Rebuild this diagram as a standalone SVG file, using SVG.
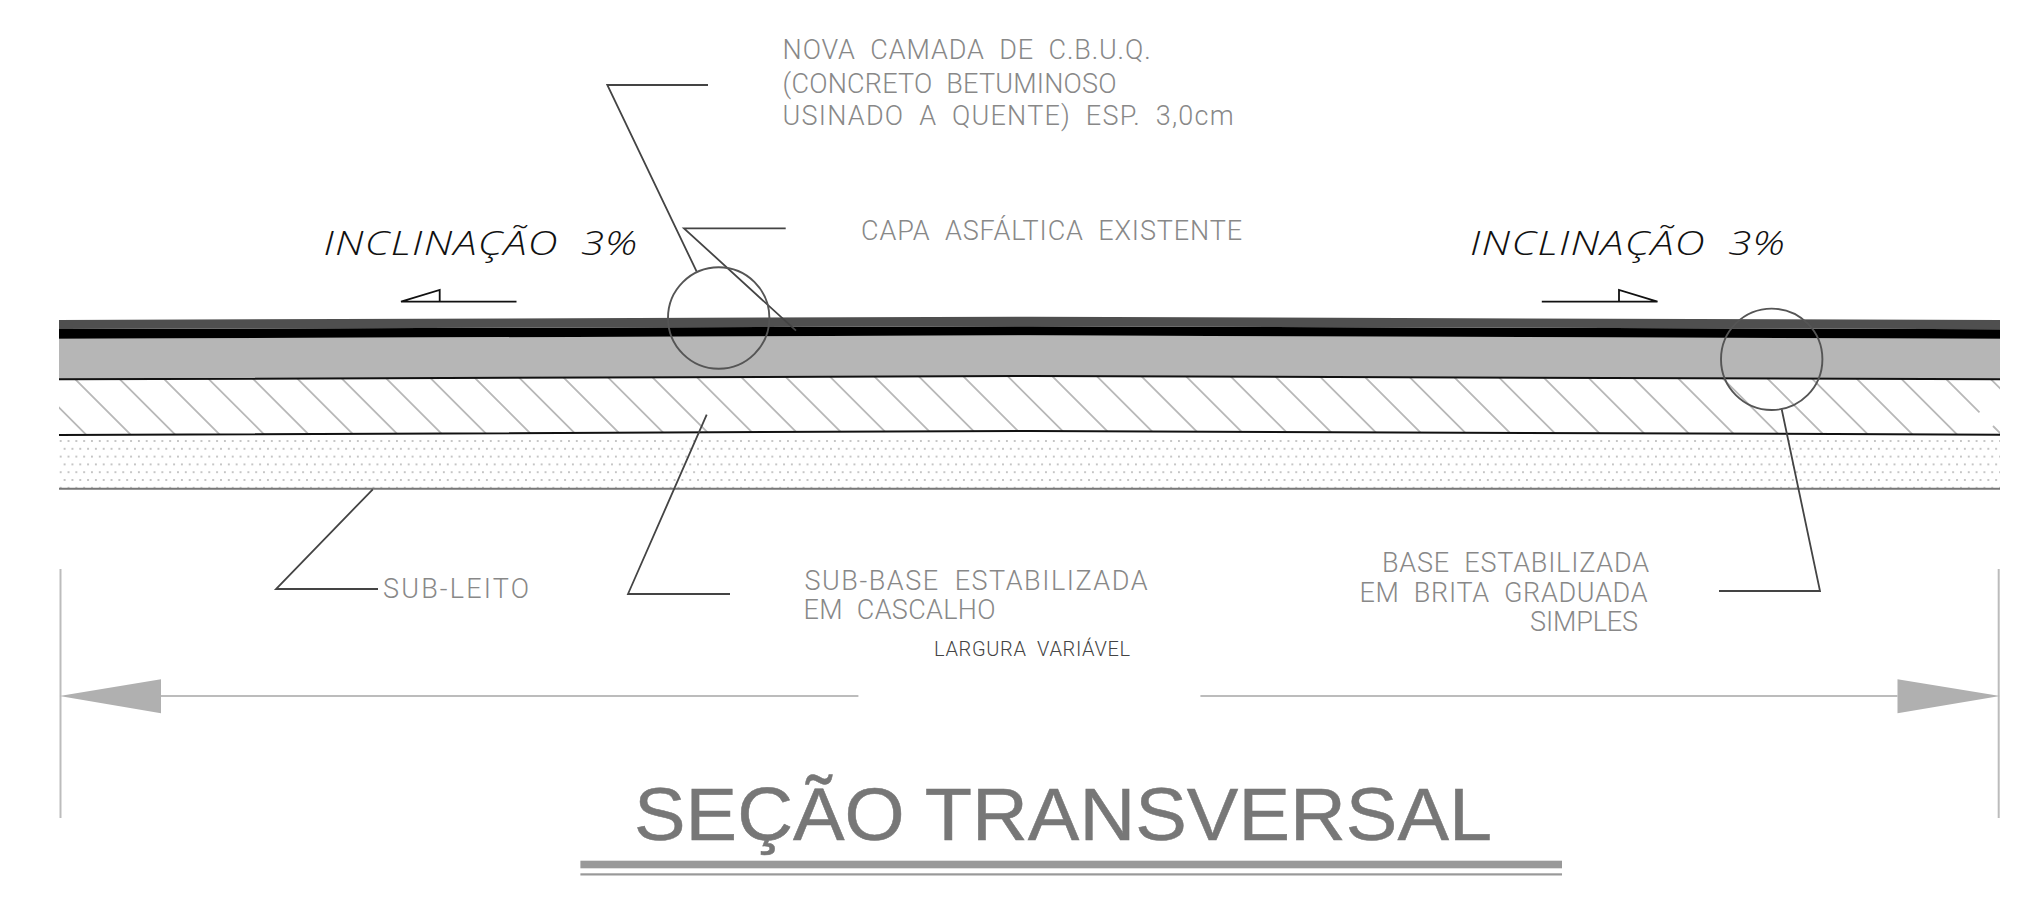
<svg xmlns="http://www.w3.org/2000/svg" width="2037" height="900" viewBox="0 0 2037 900">
<style>
.cad{font-family:Roboto,"Liberation Sans",sans-serif;font-weight:300;fill:#888;font-size:27px;word-spacing:7px}
.slope{font-family:"Open Sans","Liberation Sans",sans-serif;font-weight:300;font-style:italic;fill:#111;font-size:33px;letter-spacing:1px;word-spacing:8px}
.lead{fill:none;stroke:#444;stroke-width:1.8}
.dim{fill:none;stroke:#bcbcbc;stroke-width:2}
.arrowhead{fill:#b0b0b0}
.sl{fill:none;stroke:#111;stroke-width:1.8}
.edge{fill:none;stroke:#111;stroke-width:2}
.ring{fill:none;stroke:#555;stroke-width:1.9}
</style>
<defs>
<clipPath id="hatchClip"><polygon points="59,379 1030,376 2000,379.3 2000,434.7 1030,431 59,435"/></clipPath>
<pattern id="dots" patternUnits="userSpaceOnUse" x="56.8" y="437.1" width="7.82" height="15.6">
<circle cx="3.9" cy="3.9" r="0.95" fill="#b0b0b0"/>
<circle cx="0" cy="11.7" r="0.95" fill="#b0b0b0"/>
<circle cx="7.82" cy="11.7" r="0.95" fill="#b0b0b0"/>
</pattern>
</defs>
<rect width="2037" height="900" fill="#fff"/>
<g id="pavement">
<g id="sub-base-hatch" clip-path="url(#hatchClip)">
<path fill="none" stroke="#b8b8b8" stroke-width="1.8" d="M21.45 370l70 70M66 370l70 70M110.55 370l70 70M155.1 370l70 70M199.65 370l70 70M244.2 370l70 70M288.75 370l70 70M333.3 370l70 70M377.85 370l70 70M422.4 370l70 70M466.95 370l70 70M511.5 370l70 70M556.05 370l70 70M600.6 370l70 70M645.15 370l70 70M689.7 370l70 70M734.25 370l70 70M778.8 370l70 70M823.35 370l70 70M867.9 370l70 70M912.45 370l70 70M957 370l70 70M1001.55 370l70 70M1046.1 370l70 70M1090.65 370l70 70M1135.2 370l70 70M1179.75 370l70 70M1224.3 370l70 70M1268.85 370l70 70M1313.4 370l70 70M1357.95 370l70 70M1402.5 370l70 70M1447.05 370l70 70M1491.6 370l70 70M1536.15 370l70 70M1580.7 370l70 70M1625.25 370l70 70M1669.8 370l70 70M1714.35 370l70 70M1758.9 370l70 70M1803.45 370l70 70M1848 370l70 70M1892.55 370l70 70M1937.1 370l42.4 42.4M1993 426l10 10M1981.65 370l30 30"/>
</g>
<rect id="sub-leito-dots" x="59" y="437" width="941" height="51" fill="url(#dots)"/>
<rect x="1000" y="437" width="1000" height="51" fill="url(#dots)"/>
<polygon id="base" points="59,338.7 1030,335.3 2000,338.7 2000,379.3 1030,376 59,379.3" fill="#b6b6b6"/>
<polygon id="capa" points="59,329 1030,326.3 2000,329.3 2000,338.7 1030,335.3 59,338.7" fill="#000"/>
<polygon id="cbuq" points="59,320 1030,316.7 2000,320 2000,329.3 1030,326.3 59,329" fill="#4f4f4f"/>
<path class="edge" d="M59 379.3L1030 376L2000 379.3"/>
<path class="edge" d="M59 435L1030 431L2000 434.7"/>
<path d="M59 488.7H2000" fill="none" stroke="#777" stroke-width="2"/>
</g>
<g id="connectors">
<path class="lead" d="M708 85H607.3L696.7 271.7"/>
<path class="lead" d="M785.7 228.3H684L796 330.7"/>
<path class="lead" d="M372.8 489.3L276 589H378"/>
<path class="lead" d="M706.7 414.7L628 594H730"/>
<path class="lead" d="M1781.7 409.3L1820 591H1719"/>
<path class="dim" d="M161 696H858.4"/>
<path class="dim" d="M1200.4 696H1897.5"/>
</g>
<g id="circle-left"><circle class="ring" cx="718.7" cy="318" r="50.7"/></g>
<g id="circle-right"><circle class="ring" cx="1771.7" cy="359.3" r="50.7"/></g>
<g id="dimension">
<path class="dim" d="M60.5 569V818"/>
<path class="dim" d="M1998.7 569V818"/>
<polygon class="arrowhead" points="59.5,696 161,679.3 161,713.3"/>
<polygon class="arrowhead" points="2000,696 1897.5,679.3 1897.5,713.3"/>
<text id="largura" class="cad" x="934" y="656" style="font-size:20px;fill:#444;word-spacing:5px" textLength="196" lengthAdjust="spacing">LARGURA VARIÁVEL</text>
</g>
<g id="slope-left">
<path class="sl" d="M516.5 301.7H401L439.7 290V301.7"/>
<text class="slope" x="323.5" y="255" textLength="315" lengthAdjust="spacingAndGlyphs">INCLINAÇÃO 3%</text>
</g>
<g id="slope-right">
<path class="sl" d="M1541.8 301.7H1657.5L1619 290V301.7"/>
<text class="slope" x="1470" y="255" textLength="316" lengthAdjust="spacingAndGlyphs">INCLINAÇÃO 3%</text>
</g>
<g id="label-cbuq">
<text class="cad" x="782.6" y="59.3" textLength="368" lengthAdjust="spacing">NOVA CAMADA DE C.B.U.Q.</text>
<text class="cad" x="782.6" y="92.7" textLength="334" lengthAdjust="spacing">(CONCRETO BETUMINOSO</text>
<text class="cad" x="782.6" y="125" textLength="451" lengthAdjust="spacing">USINADO A QUENTE) ESP. 3,0cm</text>
</g>
<g id="label-capa"><text class="cad" x="861" y="240" textLength="381" lengthAdjust="spacing">CAPA ASFÁLTICA EXISTENTE</text></g>
<g id="label-subleito"><text class="cad" x="383" y="598.3" textLength="146" lengthAdjust="spacing">SUB-LEITO</text></g>
<g id="label-subbase">
<text class="cad" x="804.5" y="590" textLength="343" lengthAdjust="spacing">SUB-BASE ESTABILIZADA</text>
<text class="cad" x="803.5" y="619" textLength="192" lengthAdjust="spacing">EM CASCALHO</text>
</g>
<g id="label-base">
<text class="cad" x="1382" y="572" textLength="267" lengthAdjust="spacing">BASE ESTABILIZADA</text>
<text class="cad" x="1359.5" y="601.7" textLength="288" lengthAdjust="spacing">EM BRITA GRADUADA</text>
<text class="cad" x="1530" y="630.7" textLength="108" lengthAdjust="spacing">SIMPLES</text>
</g>
<g id="title">
<text x="634" y="840" textLength="858" lengthAdjust="spacingAndGlyphs" style="font-family:'Liberation Sans',Arial,sans-serif;font-size:74px;fill:#777;stroke:#777;stroke-width:0.5">SEÇÃO TRANSVERSAL</text>
<rect x="580.4" y="860.7" width="981.6" height="7.6" fill="#999"/>
<rect x="580.4" y="873.3" width="981.6" height="2.2" fill="#999"/>
</g>
</svg>
